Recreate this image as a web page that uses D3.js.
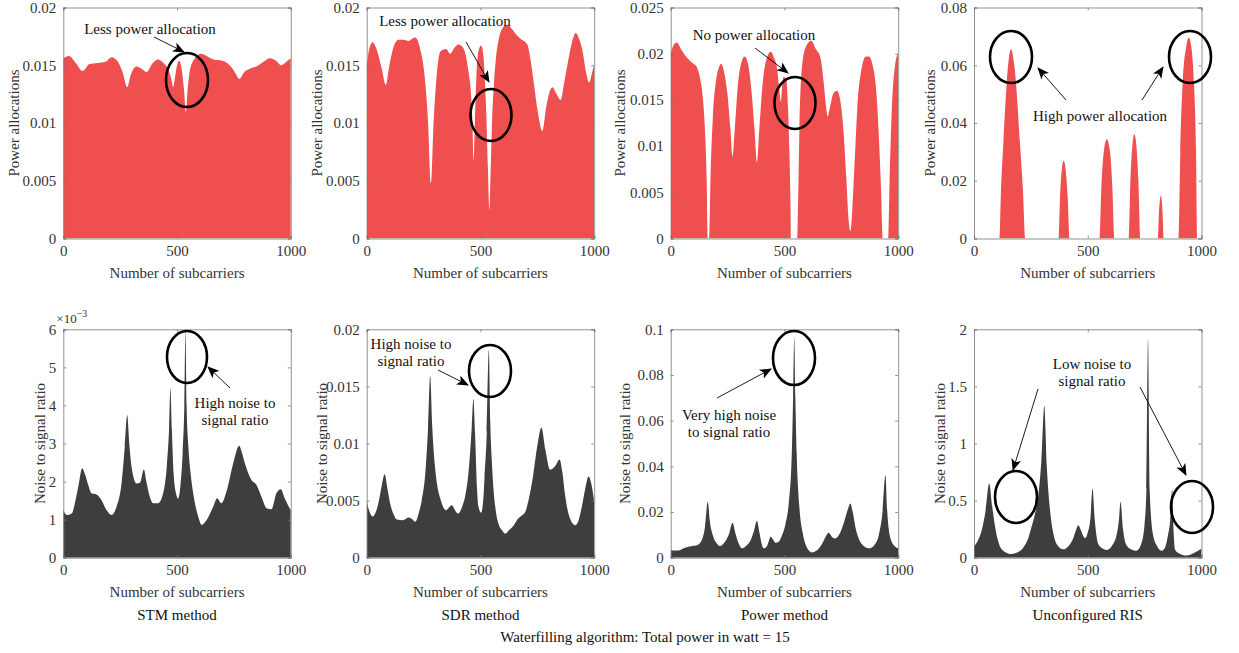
<!DOCTYPE html>
<html>
<head>
<meta charset="utf-8">
<script src="https://cdn.jsdelivr.net/npm/d3@7"></script>
<style>
body { margin: 0; background: #fff; }
text { font-family: "Liberation Serif", "Times New Roman", serif; }
</style>
</head>
<body>
<div id="chart"></div>
<script>
// values: [subcarrier, value]
const stmPower = [[0,0.0156],[25,0.0158],[55,0.0152],[85,0.0145],[115,0.0151],[150,0.0152],[185,0.0153],[212,0.0157],[240,0.0153],[262,0.0143],[281,0.0131],[297,0.0142],[322,0.0149],[344,0.0147],[366,0.0144],[390,0.0151],[415,0.0155],[440,0.0152],[462,0.0146],[476,0.0137],[483,0.0131],[490,0.0138],[500,0.0150],[510,0.0154],[520,0.0147],[530,0.0130],[539,0.0109],[547,0.0130],[558,0.0147],[575,0.0155],[605,0.0160],[630,0.0158],[660,0.0155],[700,0.0154],[740,0.0148],[760,0.0142],[773,0.0138],[795,0.0144],[820,0.0147],[849,0.0149],[880,0.0153],[908,0.0156],[935,0.0154],[959,0.0150],[980,0.0153],[1000,0.0156]];
const sdrPower = [[0,0.0150],[12,0.0165],[26,0.0170],[45,0.0163],[65,0.0148],[84,0.0133],[100,0.0150],[120,0.0167],[140,0.0172],[160,0.0172],[184,0.0171],[200,0.0173],[213,0.0174],[235,0.0164],[255,0.0140],[270,0.0100],[282,0.0048],[294,0.0100],[307,0.0140],[324,0.0162],[349,0.0164],[367,0.0160],[385,0.0165],[403,0.0168],[420,0.0166],[434,0.0160],[447,0.0145],[456,0.0131],[464,0.0105],[470,0.0067],[476,0.0105],[482,0.0140],[491,0.0162],[503,0.0167],[513,0.0158],[520,0.0135],[527,0.0100],[533,0.0060],[539,0.0025],[545,0.0060],[551,0.0102],[558,0.0130],[566,0.0152],[580,0.0172],[600,0.0183],[617,0.0185],[640,0.0181],[660,0.0176],[676,0.0173],[706,0.0168],[720,0.0155],[735,0.0134],[752,0.0110],[772,0.0093],[790,0.0115],[816,0.0131],[835,0.0125],[853,0.0120],[868,0.0135],[882,0.0150],[900,0.0168],[919,0.0178],[935,0.0172],[949,0.0162],[965,0.0143],[978,0.0135],[990,0.0143],[1000,0.0152]];
const powPower = [[0,0.0200],[12,0.0209],[26,0.0212],[50,0.0203],[78,0.0194],[100,0.0189],[114,0.0186],[130,0.0172],[140,0.0155],[150,0.0120],[158,0.0065],[163,0],[169,0],[175,0.0065],[185,0.0130],[200,0.0172],[212,0.0185],[222,0.0189],[235,0.0180],[250,0.0155],[262,0.0120],[272,0.0088],[282,0.0120],[295,0.0165],[310,0.0190],[325,0.0197],[340,0.0189],[355,0.0160],[368,0.0120],[379,0.0082],[390,0.0120],[405,0.0170],[422,0.0195],[440,0.0202],[455,0.0195],[467,0.0185],[476,0.0165],[484,0.0148],[490,0.0165],[496,0.0175],[508,0.0172],[516,0.0140],[522,0.0093],[527,0.0030],[529,0],[556,0],[560,0.0040],[566,0.0120],[577,0.0186],[595,0.0208],[618,0.0214],[638,0.0205],[658,0.0196],[672,0.0170],[682,0.0145],[690,0.0132],[700,0.0142],[715,0.0157],[731,0.0160],[745,0.0150],[760,0.0115],[772,0.0065],[782,0.0020],[790,0.0008],[798,0.0030],[808,0.0080],[820,0.0140],[840,0.0185],[858,0.0197],[871,0.0197],[890,0.0185],[905,0.0155],[915,0.0110],[925,0.0050],[932,0],[956,0],[962,0.0060],[972,0.0140],[985,0.0185],[1000,0.0201]];
const risPower = [[0,0.004],[3,0],[112,0],[118,0.015],[129,0.033],[145,0.055],[162,0.0655],[180,0.058],[202,0.033],[215,0.017],[225,0],[372,0],[378,0.014],[386,0.024],[394,0.0269],[404,0.023],[412,0.014],[420,0],[552,0],[560,0.018],[572,0.031],[584,0.0344],[598,0.030],[608,0.018],[617,0],[680,0],[687,0.019],[696,0.032],[705,0.0361],[714,0.032],[723,0.019],[731,0],[808,0],[813,0.009],[822,0.0148],[829,0.009],[834,0],[900,0],[907,0.030],[918,0.055],[932,0.066],[944,0.0696],[956,0.066],[968,0.052],[976,0.030],[981,0],[1000,0]];

const stmNsr = [[0,0.00125],[15,0.00112],[37,0.00116],[55,0.00155],[66,0.00187],[83,0.00235],[95,0.0022],[110,0.0019],[124,0.00169],[146,0.00166],[168,0.00151],[190,0.00125],[212,0.00112],[234,0.00134],[256,0.00195],[270,0.0029],[281,0.00375],[290,0.0030],[300,0.00239],[322,0.00195],[337,0.00197],[354,0.00232],[365,0.0020],[380,0.0016],[395,0.00143],[417,0.00143],[439,0.00169],[455,0.0024],[465,0.0034],[471,0.00445],[477,0.0034],[485,0.0022],[495,0.0017],[505,0.00155],[515,0.0019],[525,0.0028],[532,0.0040],[537,0.00595],[542,0.0040],[549,0.0030],[560,0.0022],[571,0.00169],[593,0.00108],[608,0.00086],[630,0.00099],[659,0.00134],[676,0.00156],[695,0.00143],[717,0.00173],[747,0.00248],[773,0.00294],[783,0.0028],[798,0.00248],[827,0.00204],[849,0.00191],[871,0.0016],[893,0.0013],[915,0.00127],[937,0.00169],[956,0.0018],[974,0.00155],[1000,0.00125]];
const sdrNsr = [[0,0.0049],[13,0.0040],[26,0.0036],[40,0.0040],[51,0.00475],[65,0.0062],[79,0.0073],[90,0.0062],[103,0.00475],[118,0.0038],[132,0.00335],[161,0.00329],[183,0.00352],[198,0.0034],[213,0.00314],[230,0.0040],[242,0.00504],[258,0.0075],[270,0.0115],[279,0.0159],[288,0.0115],[301,0.0078],[315,0.0058],[323,0.0052],[348,0.00416],[374,0.0046],[390,0.0041],[403,0.00387],[420,0.0045],[433,0.0054],[450,0.0080],[462,0.0115],[469,0.0139],[476,0.0110],[485,0.0060],[491,0.0045],[503,0.00393],[512,0.0050],[518,0.0070],[528,0.0110],[537,0.0182],[543,0.0120],[550,0.0085],[565,0.0045],[579,0.0030],[595,0.0024],[609,0.0021],[625,0.0024],[645,0.0028],[665,0.0034],[682,0.0037],[697,0.0040],[711,0.0050],[730,0.0070],[750,0.0098],[768,0.0114],[785,0.0095],[806,0.0077],[828,0.0080],[848,0.0086],[860,0.0075],[872,0.0055],[894,0.0034],[916,0.00285],[930,0.0032],[946,0.0045],[962,0.0062],[975,0.0071],[988,0.0064],[1000,0.0049]];
const powNsr = [[0,0.0034],[20,0.0031],[34,0.0031],[55,0.0040],[78,0.0048],[100,0.0052],[115,0.0055],[137,0.0078],[150,0.0130],[163,0.0245],[172,0.0160],[188,0.0090],[205,0.0060],[217,0.0051],[235,0.0065],[255,0.0100],[272,0.0153],[285,0.0105],[300,0.0060],[313,0.0041],[330,0.0050],[355,0.0085],[368,0.0125],[379,0.0162],[390,0.0110],[400,0.0060],[408,0.0041],[425,0.0055],[440,0.0092],[450,0.0080],[460,0.0065],[475,0.0070],[490,0.0100],[505,0.0150],[520,0.0250],[532,0.0450],[538,0.0700],[543,0.0965],[548,0.0700],[554,0.0450],[565,0.0230],[580,0.0110],[592,0.0060],[605,0.0035],[621,0.0023],[640,0.0030],[665,0.0060],[680,0.0090],[694,0.0109],[710,0.0090],[724,0.0084],[740,0.0100],[760,0.0150],[778,0.0210],[790,0.0237],[800,0.0200],[815,0.0120],[826,0.0085],[850,0.0050],[871,0.0041],[895,0.0055],[915,0.0100],[930,0.0190],[944,0.0361],[952,0.0200],[966,0.0085],[985,0.0050],[1000,0.0041]];
const risNsr = [[0,0.096],[17,0.15],[34,0.24],[50,0.40],[67,0.65],[80,0.45],[92,0.28],[110,0.12],[129,0.06],[147,0.040],[165,0.032],[190,0.045],[217,0.09],[240,0.18],[253,0.27],[270,0.40],[283,0.55],[296,0.85],[309,1.33],[320,0.80],[334,0.42],[350,0.20],[363,0.12],[392,0.073],[415,0.10],[436,0.17],[448,0.24],[458,0.285],[470,0.24],[480,0.19],[488,0.17],[500,0.22],[512,0.35],[521,0.605],[530,0.35],[546,0.12],[565,0.08],[583,0.067],[605,0.10],[627,0.20],[637,0.33],[644,0.49],[655,0.25],[670,0.11],[690,0.075],[714,0.061],[735,0.12],[750,0.30],[758,0.60],[765,1.92],[772,0.60],[787,0.20],[805,0.10],[824,0.06],[840,0.09],[853,0.20],[862,0.32],[871,0.60],[878,0.20],[884,0.07],[900,0.04],[935,0.02],[965,0.04],[985,0.06],[1000,0.08]];

const xTicks = [0, 500, 1000];
const powerTicks1 = [0, 0.005, 0.01, 0.015, 0.02];
const powerTicks3 = [0, 0.005, 0.01, 0.015, 0.02, 0.025];
const powerTicks4 = [0, 0.02, 0.04, 0.06, 0.08];
const nsrTicks1 = [0, 0.001, 0.002, 0.003, 0.004, 0.005, 0.006];
const nsrTicks2 = [0, 0.005, 0.01, 0.015, 0.02];
const nsrTicks3 = [0, 0.02, 0.04, 0.06, 0.08, 0.1];
const nsrTicks4 = [0, 0.5, 1, 1.5, 2];

const methods = ["STM method", "SDR method", "Power method", "Unconfigured RIS"];
const figTitle = "Waterfilling algorithm: Total power in watt = 15";

const width = 1239, height = 653;
const colLeft = [63.3, 366.7, 670.7, 974];
const plotW = 227.5;
const rowTop = [7.5, 329.3];
const plotH = [231, 228.4];
const red = "#f04f50", dark = "#3e3e3e";

const panels = [
    {row: 0, col: 0, data: stmPower, ticks: powerTicks1, color: red, ylabel: "Power allocations", ylx: 14},
    {row: 0, col: 1, data: sdrPower, ticks: powerTicks1, color: red, ylabel: "Power allocations", ylx: 317},
    {row: 0, col: 2, data: powPower, ticks: powerTicks3, color: red, ylabel: "Power allocations", ylx: 620},
    {row: 0, col: 3, data: risPower, ticks: powerTicks4, color: red, ylabel: "Power allocations", ylx: 930},
    {row: 1, col: 0, data: stmNsr, ticks: nsrTicks1, color: dark, ylabel: "Noise to signal ratio", ylx: 40, scale: 1e-3},
    {row: 1, col: 1, data: sdrNsr, ticks: nsrTicks2, color: dark, ylabel: "Noise to signal ratio", ylx: 322},
    {row: 1, col: 2, data: powNsr, ticks: nsrTicks3, color: dark, ylabel: "Noise to signal ratio", ylx: 625},
    {row: 1, col: 3, data: risNsr, ticks: nsrTicks4, color: dark, ylabel: "Noise to signal ratio", ylx: 940}
];

// annotations in page pixels
const notes = [
    {lines: ["Less power allocation"], x: 150, y: 29, arrows: [[154, 37, 184, 52]], rings: [[187, 80, 21, 27]]},
    {lines: ["Less power allocation"], x: 445, y: 21, arrows: [[466, 42, 489, 82]], rings: [[491, 115, 20.5, 26]]},
    {lines: ["No power allocation"], x: 754, y: 35, arrows: [[755, 48, 788, 73]], rings: [[795, 103, 20.5, 26]]},
    {lines: ["High power allocation"], x: 1100, y: 116, arrows: [[1066, 100, 1038, 68], [1142, 100, 1163, 67]], rings: [[1011, 57, 21, 26], [1190, 57, 21, 26]]},
    {lines: ["High noise to", "signal ratio"], x: 235, y: 403, arrows: [[230, 388, 208, 367]], rings: [[187, 357, 20, 26]]},
    {lines: ["High noise to", "signal ratio"], x: 411, y: 344, arrows: [[438, 370, 468, 385]], rings: [[490, 371, 21, 26]]},
    {lines: ["Very high noise", "to signal ratio"], x: 729, y: 415, arrows: [[717, 398, 771, 369]], rings: [[794, 358, 21, 27]]},
    {lines: ["Low noise to", "signal ratio"], x: 1092, y: 364, arrows: [[1038, 389, 1013, 470], [1140, 387, 1186, 475]], rings: [[1016, 497, 21, 26], [1192, 507, 21, 26]]}
];

const svg = d3.select("#chart").append("svg")
    .attr("width", width)
    .attr("height", height);

svg.append("defs").append("marker")
    .attr("id", "head")
    .attr("viewBox", "0 0 12 10")
    .attr("refX", 11).attr("refY", 5)
    .attr("markerWidth", 12).attr("markerHeight", 10)
    .attr("markerUnits", "userSpaceOnUse")
    .attr("orient", "auto")
    .append("path")
    .attr("d", "M0,0 L12,5 L0,10 L3,5 Z")
    .attr("fill", "#000");

const fmt = d3.format("~g");

panels.forEach((p, i) => {
    const x0 = colLeft[p.col], y0 = rowTop[p.row], h = plotH[p.row];
    const x = d3.scaleLinear().domain([0, 1000]).range([x0, x0 + plotW]);
    const y = d3.scaleLinear().domain([0, p.ticks[p.ticks.length - 1]]).range([y0 + h, y0]);

    svg.append("clipPath").attr("id", "clip" + i)
        .append("rect").attr("x", x0).attr("y", y0).attr("width", plotW).attr("height", h);

    const area = d3.area()
        .x(d => x(d[0]))
        .y0(y(0))
        .y1(d => y(d[1]))
        .curve(d3.curveMonotoneX);

    svg.append("path")
        .datum(p.data)
        .attr("clip-path", `url(#clip${i})`)
        .attr("fill", p.color)
        .attr("d", area);

    // axes with inward ticks on all four sides (box on)
    const tickLen = 3;
    const tcol = "#333";
    const bottom = svg.append("g").attr("transform", `translate(0,${y0 + h})`)
        .call(d3.axisBottom(x).tickValues(xTicks).tickSize(-tickLen).tickPadding(7).tickFormat(d3.format("d")));
    const top = svg.append("g").attr("transform", `translate(0,${y0})`)
        .call(d3.axisTop(x).tickValues(xTicks).tickSize(-tickLen).tickFormat(""));
    const left = svg.append("g").attr("transform", `translate(${x0},0)`)
        .call(d3.axisLeft(y).tickValues(p.ticks).tickSize(-tickLen).tickPadding(7)
            .tickFormat(d => p.scale ? fmt(Math.round(d / p.scale * 1000) / 1000) : fmt(d)));
    const right = svg.append("g").attr("transform", `translate(${x0 + plotW},0)`)
        .call(d3.axisRight(y).tickValues(p.ticks).tickSize(-tickLen).tickFormat(""));

    [bottom, top, left, right].forEach(g => {
        g.select(".domain").attr("stroke", "#777").attr("stroke-width", 0.8);
        g.selectAll(".tick line").attr("stroke", "#777").attr("stroke-width", 0.8);
        g.selectAll(".tick text")
            .attr("fill", tcol)
            .style("font-size", "15px")
            .style("font-family", "'Liberation Serif', serif");
    });

    svg.append("text")
        .attr("x", x0 + plotW / 2)
        .attr("y", y0 + h + 34)
        .attr("text-anchor", "middle")
        .attr("dominant-baseline", "central")
        .attr("fill", "#333")
        .style("font-size", "15px")
        .text("Number of subcarriers");

    svg.append("text")
        .attr("transform", `translate(${p.ylx},${y0 + h / 2}) rotate(-90)`)
        .attr("text-anchor", "middle")
        .attr("dominant-baseline", "central")
        .attr("fill", "#333")
        .style("font-size", "15px")
        .text(p.ylabel);

    if (p.scale) {
        const t = svg.append("text")
            .attr("x", x0 - 7)
            .attr("y", y0 - 6)
            .attr("fill", "#333")
            .style("font-size", "13px");
        t.append("tspan").text("×10");
        t.append("tspan").attr("dy", -6).style("font-size", "10px").text("−3");
    }
});

// method names under the bottom row
methods.forEach((m, i) => {
    svg.append("text")
        .attr("x", colLeft[i] + plotW / 2)
        .attr("y", 615)
        .attr("text-anchor", "middle")
        .attr("dominant-baseline", "central")
        .attr("fill", "#111")
        .style("font-size", "15px")
        .text(m);
});

svg.append("text")
    .attr("x", 645)
    .attr("y", 637)
    .attr("text-anchor", "middle")
    .attr("dominant-baseline", "central")
    .attr("fill", "#111")
    .style("font-size", "15px")
    .text(figTitle);

// ellipses, arrows and notes
notes.forEach(n => {
    n.rings.forEach(r => {
        svg.append("ellipse")
            .attr("cx", r[0]).attr("cy", r[1])
            .attr("rx", r[2]).attr("ry", r[3])
            .attr("fill", "none")
            .attr("stroke", "#000")
            .attr("stroke-width", 2.6);
    });
    n.arrows.forEach(a => {
        svg.append("line")
            .attr("x1", a[0]).attr("y1", a[1])
            .attr("x2", a[2]).attr("y2", a[3])
            .attr("stroke", "#000")
            .attr("stroke-width", 0.9)
            .attr("marker-end", "url(#head)");
    });
    n.lines.forEach((l, k) => {
        svg.append("text")
            .attr("x", n.x)
            .attr("y", n.y + k * 17)
            .attr("text-anchor", "middle")
            .attr("dominant-baseline", "central")
            .attr("fill", "#111")
            .style("font-size", "15px")
            .text(l);
    });
});
</script>
</body>
</html>
